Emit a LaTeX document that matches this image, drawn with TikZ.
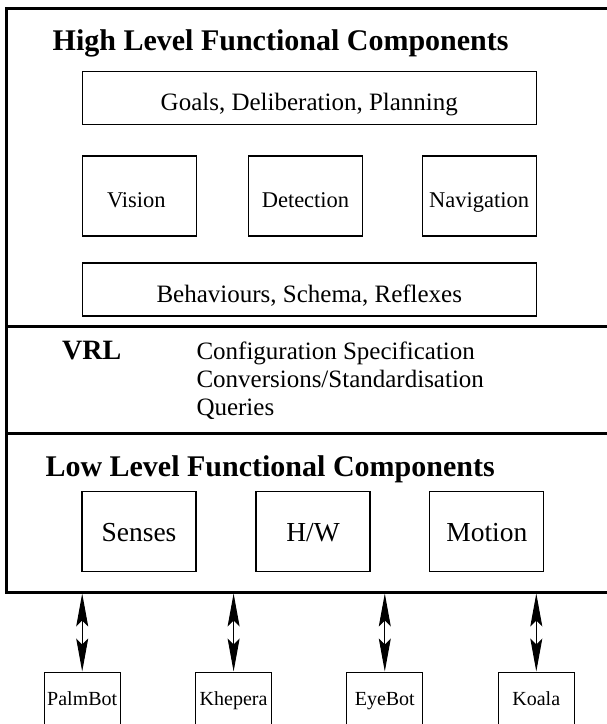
\documentclass[tikz,border=0pt]{standalone}
\usepackage{fontspec}
\setmainfont{Liberation Serif}
\usetikzlibrary{arrows.meta}

\tikzset{
  panel/.style={line width=3pt},
  heading/.style={anchor=base west, inner sep=0pt,
    font=\fontsize{30}{30}\selectfont\bfseries},
  entry/.style={anchor=base west, inner sep=0pt,
    font=\fontsize{25}{25}\selectfont},
  widebox/.style={draw, line width=1.3pt, inner sep=0pt,
    minimum width=454pt, minimum height=53pt,
    font=\fontsize{25}{25}\selectfont, text height=25pt, text depth=0pt},
  modbox/.style={draw, line width=1.3pt, inner sep=0pt,
    minimum width=114pt, minimum height=80pt,
    font=\fontsize{22.5}{22.5}\selectfont, text height=22pt, text depth=0pt},
  lowbox/.style={draw, line width=1.3pt, inner sep=0pt,
    minimum width=114pt, minimum height=79.5pt,
    font=\fontsize{27.5}{27.5}\selectfont, text height=21pt, text depth=0pt},
  robot/.style={draw, line width=1pt, inner sep=0pt,
    minimum width=76pt, minimum height=56pt,
    font=\fontsize{20}{20}\selectfont, text height=10pt, text depth=0pt},
  link/.style={line width=1pt,
    {Stealth[length=33pt,width=12pt,inset=6pt]}-{Stealth[length=33pt,width=12pt,inset=6pt]}},
}

\begin{document}
\begin{tikzpicture}[x=1pt,y=-1pt]
\useasboundingbox (0,0) rectangle (607,724);
\clip (0,0) rectangle (607,724);

% outer frame and layer dividers
\draw[panel] (6,8) rectangle (625,592);
\draw[panel] (6,326) -- (625,326);
\draw[panel] (6,433.3) -- (625,433.3);
\coordinate (base) at (0,593.5);

% high level layer
\node[heading] (hltitle) at (52.5,50) {High Level Functional Components};
\node[widebox] (goals) at (309.3,97.75) {Goals, Deliberation, Planning};
\node[modbox] (vision) at (139.4,196) {\hspace{-6pt}Vision};
\node[modbox] (detection) at (305.5,196) {Detection\hspace{11pt}};
\node[modbox] (navigation) at (479.2,196) {Navigation};
\node[widebox, text height=26pt] (behav) at (309.3,289.5) {Behaviours, Schema, Reflexes\hspace{10pt}};

% VRL layer
\node[heading, font=\fontsize{28}{28}\selectfont\bfseries] (vrl) at (62,359.3) {VRL};
\node[entry] (conf) at (196.3,359.3) {Configuration Specification};
\node[entry] (conv) at (196.3,387.7) {Conversions/Standardisation};
\node[entry] (query) at (196.3,415) {Queries};

% low level layer
\node[heading] (lltitle) at (45.3,476) {Low Level Functional Components};
\node[lowbox] (senses) at (139,531.4) {Senses\hspace{9pt}};
\node[lowbox] (hw) at (313,531.4) {H/W\hspace{16pt}};
\node[lowbox] (motion) at (486.8,531.4) {Motion\hspace{18pt}};

% robot platforms
\node[robot] (palm) at (82.2,700) {PalmBot};
\node[robot] (khepera) at (233.6,700) {Khepera};
\node[robot] (eyebot) at (384.8,700) {EyeBot};
\node[robot] (koala) at (536.3,700) {Koala};

\foreach \r in {palm,khepera,eyebot,koala}
  \draw[link] (\r.north |- base) -- (\r.north);
\end{tikzpicture}
\end{document}
